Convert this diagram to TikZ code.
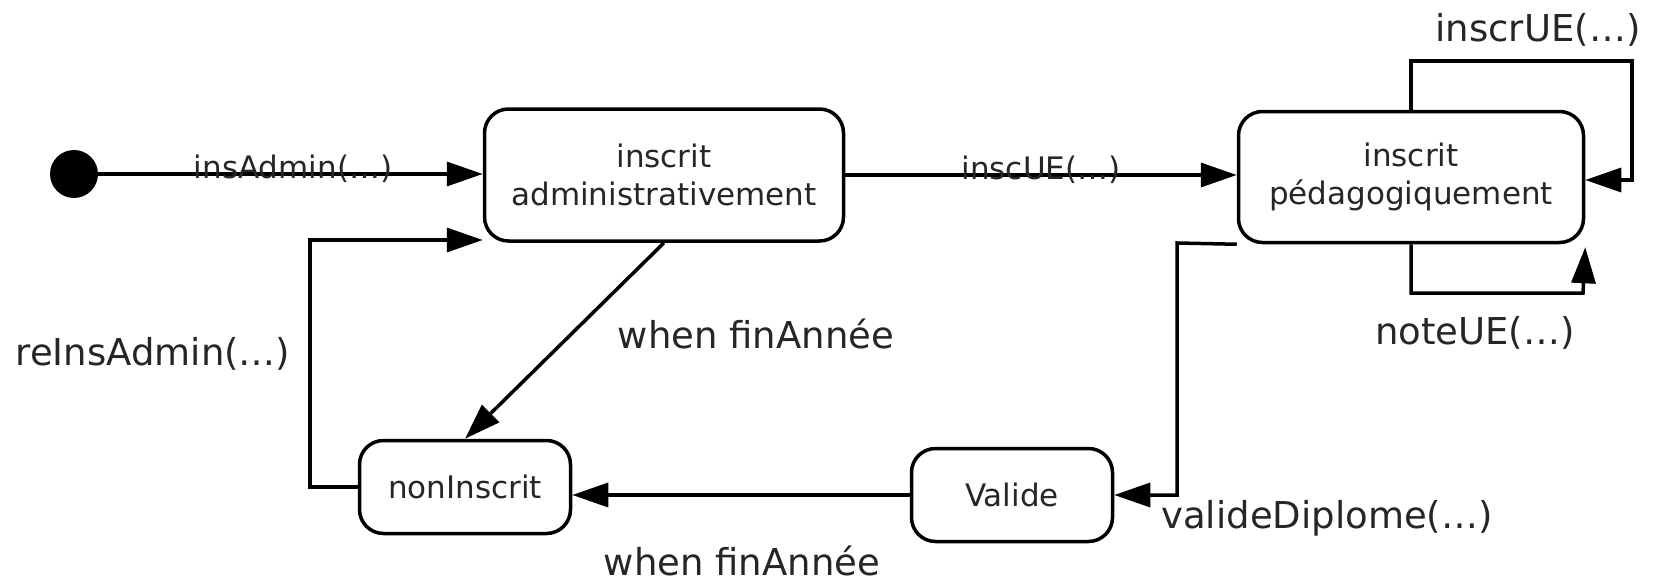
\documentclass[tikz,border=0pt]{standalone}
\usepackage{fontspec}
\setmainfont{DejaVu Sans}
\usetikzlibrary{arrows.meta}
\begin{document}
\begin{tikzpicture}[x=1pt,y=-1pt,
  state/.style={draw, line width=3.5pt, rounded corners=24pt, fill=white,
    align=center, inner sep=0pt, text=black!85,
    font=\fontsize{31}{38}\selectfont},
  conn/.style={line width=3.5pt, -{Triangle[length=36pt,width=24pt]}},
  biglbl/.style={inner sep=0pt, text=black!85, font=\fontsize{37}{44}\selectfont},
  smalllbl/.style={inner sep=0pt, text=black!85, font=\fontsize{31}{38}\selectfont}]
\useasboundingbox (0,0) rectangle (1658,586);

% states
\node[circle, fill=black, minimum size=48pt, inner sep=0pt] (init) at (74,174) {};
\node[state, minimum width=359pt, minimum height=132pt] (A) at (664,175)
  {inscrit\\administrativement};
\node[state, minimum width=345pt, minimum height=131pt] (B) at (1411,177)
  {inscrit\\pédagogiquement};
\node[state, minimum width=201pt, minimum height=93pt] (V) at (1012,495) {Valide};
\node[state, minimum width=211pt, minimum height=93pt] (N) at (465,487) {nonInscrit};

% bend points of the orthogonal transitions
\coordinate (topR) at (1632,61);
\coordinate (botR) at (1583,293);
\coordinate (bv) at (1177,243);
\coordinate (rl) at (310,240);

% transitions
\draw[conn] (init) -- (init -| A.west);
\draw[conn] (A.east) -- (A.east -| B.west);
\draw[conn] (B.north) |- (topR) |- ([yshift=-3pt]B.east);
\draw[conn] (B.south) |- (botR) -- ([yshift=-3pt]B.south east);
\draw[conn] (B.south west) -- (bv) |- (V.east);
\draw[conn] (V.west) -- (V.west -| N.east);
\draw[conn] (A.south) -- (N.north);
\draw[conn] (N.west) -| (rl) -- (rl -| A.west);

% labels
\node[smalllbl, anchor=base] (l1) at (293,178) {insAdmin(…)};
\node[smalllbl, anchor=base] (l2) at (1041,179) {inscUE(…)};
\node[biglbl] (l3) at (1538,30) {inscrUE(…)};
\node[biglbl] (l4) at (1475,333) {noteUE(…)};
\node[biglbl] (l5) at (1327,518) {valideDiplome(…)};
\node[biglbl] (l6) at (742,561) {when finAnnée};
\node[biglbl] (l7) at (756,334) {when finAnnée};
\node[biglbl] (l8) at (153,354) {reInsAdmin(…)};
\end{tikzpicture}
\end{document}
